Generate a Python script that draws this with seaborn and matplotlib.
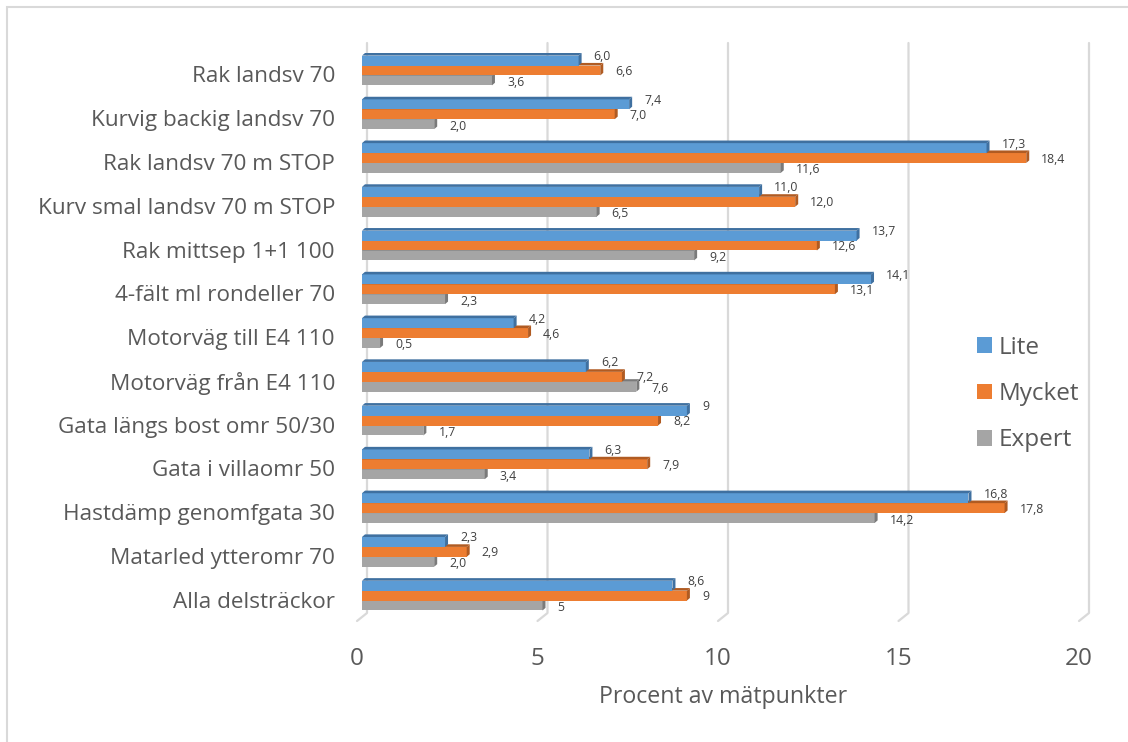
import matplotlib
matplotlib.use("Agg")
import numpy as np
import pandas as pd
import seaborn as sns
import matplotlib.pyplot as plt
import matplotlib.transforms as mtransforms
from matplotlib.patches import Polygon, Rectangle, Patch
from matplotlib.lines import Line2D

# ---- data -------------------------------------------------------------
categories = [
    "Rak landsv 70", "Kurvig backig landsv 70", "Rak landsv 70 m STOP",
    "Kurv smal landsv 70 m STOP", "Rak mittsep 1+1 100", "4-fält ml rondeller 70",
    "Motorväg till E4 110", "Motorväg från E4 110", "Gata längs bost omr 50/30",
    "Gata i villaomr 50", "Hastdämp genomfgata 30", "Matarled ytteromr 70",
    "Alla delsträckor",
]
series_names = ["Lite", "Mycket", "Expert"]
lite = [6.0, 7.4, 17.3, 11.0, 13.7, 14.1, 4.2, 6.2, 9.0, 6.3, 16.8, 2.3, 8.6]
mycket = [6.6, 7.0, 18.4, 12.0, 12.6, 13.1, 4.6, 7.2, 8.2, 7.9, 17.8, 2.9, 9.0]
expert = [3.6, 2.0, 11.6, 6.5, 9.2, 2.3, 0.5, 7.6, 1.7, 3.4, 14.2, 2.0, 5.0]
lite_labels = ["6,0", "7,4", "17,3", "11,0", "13,7", "14,1", "4,2", "6,2", "9",
               "6,3", "16,8", "2,3", "8,6"]
mycket_labels = ["6,6", "7,0", "18,4", "12,0", "12,6", "13,1", "4,6", "7,2", "8,2",
                 "7,9", "17,8", "2,9", "9"]
expert_labels = ["3,6", "2,0", "11,6", "6,5", "9,2", "2,3", "0,5", "7,6", "1,7",
                 "3,4", "14,2", "2,0", "5"]
x_ticks = [0, 5, 10, 15, 20]
x_label = "Procent av mätpunkter"

# ---- styling ----------------------------------------------------------
front_colors = ["#5B9BD5", "#ED7D31", "#A5A5A5"]
shade_colors = ["#3F70A0", "#B05B22", "#7A7A7A"]
text_color = "#595959"
grid_color = "#D9D9D9"

sns.set_theme(style="white")
plt.rcParams["font.family"] = ["Open Sans", "DejaVu Sans"]

W, H, DPI = 1128, 742, 100
fig = plt.figure(figsize=(W / DPI, H / DPI), dpi=DPI)
fig.patch.set_facecolor("white")

# plot area in pixels (left, top, right, bottom)
L, T, R, B = 362, 48.6, 1084, 617.5
ax = fig.add_axes([L / W, 1 - B / H, (R - L) / W, (B - T) / H])
ax.patch.set_alpha(0)

df = pd.DataFrame({
    "Kategori": categories * 3,
    "Procent": lite + mycket + expert,
    "Serie": np.repeat(series_names, len(categories)),
})

sns.barplot(data=df, y="Kategori", x="Procent", hue="Serie", orient="h",
            order=categories, hue_order=series_names, palette=front_colors,
            saturation=1, width=0.68, dodge=True, legend=False, ax=ax,
            edgecolor="none", linewidth=0)

ax.set_xlim(0, 20)
ax.set_ylim(len(categories) - 0.5, -0.5)
for s in ax.spines.values():
    s.set_visible(False)
ax.grid(False)

# pixels per data unit, for the fake depth of the bars
ppx = (R - L) / 20.0
ppy = (B - T) / len(categories)
dx, dy = 3.0 / ppx, 2.6 / ppy

label_sets = [lite_labels, mycket_labels, expert_labels]
label_dy = [4, -1, -2]  # pixels, upward positive
base_z = [4.0, 3.5, 3.0]
for k, cont in enumerate(ax.containers):
    for p, lab in zip(cont.patches, label_sets[k]):
        p.set_zorder(base_z[k])
        x0, w = p.get_x(), p.get_width()
        yt, yb = p.get_y(), p.get_y() + p.get_height()
        top = Polygon([(x0, yt), (x0 + w, yt), (x0 + w + dx, yt - dy), (x0 + dx, yt - dy)],
                      closed=True, facecolor=shade_colors[k], edgecolor="none",
                      zorder=base_z[k] + 0.1, clip_on=False)
        side = Polygon([(x0 + w, yt), (x0 + w + dx, yt - dy), (x0 + w + dx, yb - dy), (x0 + w, yb)],
                       closed=True, facecolor=shade_colors[k], edgecolor="none",
                       zorder=base_z[k] + 0.1, clip_on=False)
        ax.add_patch(top)
        ax.add_patch(side)
        ax.annotate(lab, xy=(x0 + w, (yt + yb) / 2), xytext=(15, label_dy[k]),
                    textcoords="offset pixels", ha="left", va="center",
                    fontsize=8.8, color="#404040", zorder=6)

# back-wall gridlines with a short floor segment, behind the bars
fig.canvas.draw()
for t in x_ticks:
    px = ax.transData.transform((t, 0))[0]
    gx = [px + 5, px + 5, px - 5]
    gy = [H - 43, H - 613, H - 621]
    fig.add_artist(Line2D(gx, gy, transform=mtransforms.IdentityTransform(),
                          color=grid_color, linewidth=1.6, zorder=-1))

# axis ticks and labels
ax.set_xticks(x_ticks)
ax.set_xticklabels([str(t) for t in x_ticks], fontsize=17.5, color=text_color)
ax.tick_params(axis="x", length=0, pad=21.5)
ax.tick_params(axis="y", length=0, pad=19.5)
ax.set_yticks(range(len(categories)))
ax.set_yticklabels(categories, fontsize=16.2, color=text_color)
ax.set_ylabel("")
for lbl in ax.get_xticklabels():
    lbl.set_transform(lbl.get_transform() + mtransforms.ScaledTranslation(-5 / DPI, 0, fig.dpi_scale_trans))
for lbl in ax.get_yticklabels():
    lbl.set_transform(lbl.get_transform() + mtransforms.ScaledTranslation(0, -4 / DPI, fig.dpi_scale_trans))

ax.set_xlabel(x_label, fontsize=16.7, color=text_color, va="center")
ax.xaxis.set_label_coords(0.5, (H - 697 - (H - B)) / (B - T))

# legend
handles = [Patch(facecolor=c, edgecolor="none", label=n) for c, n in zip(front_colors, series_names)]
leg = fig.legend(handles=handles, loc="center left", bbox_to_anchor=(977 / W, 1 - 394 / H),
                 frameon=False, fontsize=17.5, handlelength=0.62, handleheight=0.62,
                 handletextpad=0.28, labelspacing=0.92, borderpad=0, borderaxespad=0)
for txt in leg.get_texts():
    txt.set_color(text_color)

# chart-area border
fig.add_artist(Rectangle((7 / W, -0.05), 1.1, 1 - 7 / H + 0.05, transform=fig.transFigure,
                         fill=False, edgecolor=grid_color, linewidth=1.5, zorder=-2))

fig.savefig("out.png", dpi=DPI, facecolor="white")
